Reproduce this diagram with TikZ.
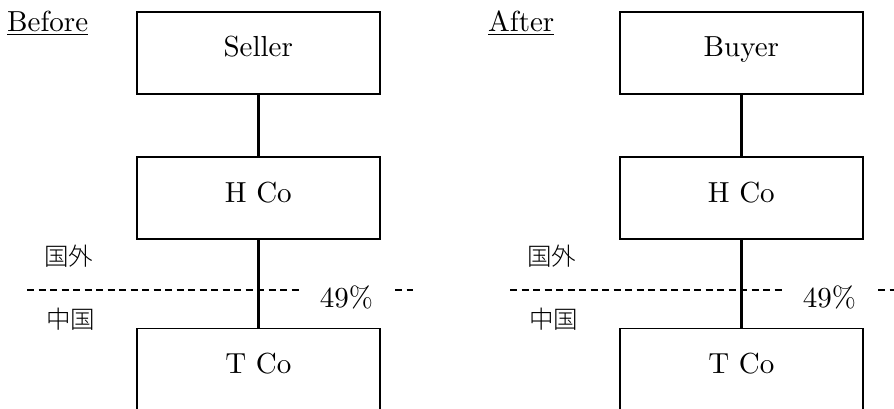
\documentclass[tikz,border=0pt]{standalone}
\usepackage{fontspec}
\setmainfont{lmroman10-regular.otf}
\newfontfamily\cjkfont{Noto Sans CJK JP Light}
\begin{document}
\begin{tikzpicture}[x=1pt,y=-1pt,
  box/.style={draw,line width=1.5pt,minimum width=243pt,minimum height=82pt,inner sep=0pt,
    text height=20pt,text depth=12pt,font=\fontsize{29}{34}\selectfont},
  link/.style={line width=2.5pt},
  border/.style={line width=1.2pt,dash pattern=on 7pt off 4.5pt},
  pct/.style={fill=white,inner xsep=20pt,inner ysep=2pt,anchor=base,font=\fontsize{29}{34}\selectfont},
  ttl/.style={anchor=base west,inner sep=0pt,font=\fontsize{29}{34}\selectfont},
  cjk/.style={anchor=west,inner sep=0pt,font=\cjkfont\fontsize{24.5}{28}\selectfont}]
\useasboundingbox (0,0) rectangle (894,409);
\clip (0,0) rectangle (894,409);
% ---------- Before ----------
\node[ttl] (before) at (7,32) {\underline{Before}};
\node[box] (seller) at (258.3,53) {Seller};
\node[box] (hcoL) at (258.3,198) {H Co};
\node[box] (tcoL) at (258.3,369.3) {T Co};
\draw[link] (seller.south) -- (hcoL.north);
\draw[link] (hcoL.south) -- (tcoL.north);
\coordinate (lineLa) at (27,290);
\coordinate (lineLb) at (413,290);
\draw[border] (lineLa) -- (lineLb);
\node[pct] (pctL) at (346.5,307) {49\%};
\node[cjk] (outL) at (44,256.5) {国外};
\node[cjk] (cnL) at (46,319) {中国};
% ---------- After ----------
\node[ttl] (after) at (488,32) {\underline{After}};
\node[box] (buyer) at (741.3,53) {Buyer};
\node[box] (hcoR) at (741.3,198) {H Co};
\node[box] (tcoR) at (741.3,369.3) {T Co};
\draw[link] (buyer.south) -- (hcoR.north);
\draw[link] (hcoR.south) -- (tcoR.north);
\coordinate (lineRa) at (510,290);
\coordinate (lineRb) at (896,290);
\draw[border] (lineRa) -- (lineRb);
\node[pct] (pctR) at (829.5,307) {49\%};
\node[cjk] (outR) at (527,256.5) {国外};
\node[cjk] (cnR) at (529,319) {中国};
\end{tikzpicture}
\end{document}
